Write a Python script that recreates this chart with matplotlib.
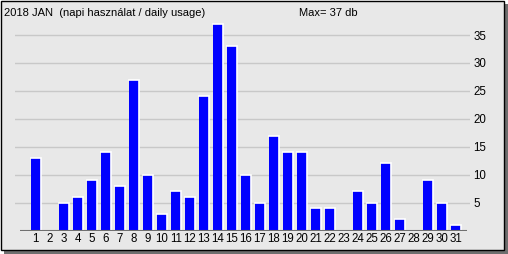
import matplotlib
matplotlib.use("Agg")
import matplotlib.pyplot as plt
from matplotlib.patches import Rectangle

days = list(range(1, 32))
values = [13, 0, 5, 6, 9, 14, 8, 27, 10, 3, 7, 6, 24, 37, 33, 10,
          5, 17, 14, 14, 4, 4, 0, 7, 5, 12, 2, 0, 9, 5, 1]
ytick_vals = [5, 10, 15, 20, 25, 30, 35]
title_text = "2018 JAN  (napi használat / daily usage)"
max_text = "Max= 37 db"

W, H = 508, 254
plt.rcParams['font.family'] = ['Liberation Sans', 'DejaVu Sans']
FS = 8.0
fig = plt.figure(figsize=(W / 100, H / 100), dpi=100, facecolor="white")

def px(x, y, w, h):
    return (x / W, 1 - (y + h) / H, w / W, h / H)

# shadow and panel
sx, sy, sw, sh = px(4, 4, 504, 250)
fig.patches.append(Rectangle((sx, sy), sw, sh, transform=fig.transFigure,
                             facecolor="#6e6e6e", edgecolor="none", zorder=0))
bx, by, bw, bh = px(0.5, 0.5, 503, 249)
fig.patches.append(Rectangle((bx, by), bw, bh, transform=fig.transFigure,
                             facecolor="#e8e8e8", edgecolor="black", linewidth=1, zorder=1))

ax = fig.add_axes(px(15, 20, 455, 210.5))
ax.set_facecolor("none")
ax.set_zorder(2)
for s in ax.spines.values():
    s.set_visible(False)
ax.set_xlim(-0.479, 32.02)
ax.set_ylim(0, 37.7)

for v in ytick_vals:
    ax.axhline(v, color="#c8c8c8", linewidth=1, zorder=1)

bars = ax.bar(days, values, width=0.72, color="#0000ff", edgecolor="none", zorder=2)
for b in bars:
    if b.get_height() <= 0:
        continue
    x0 = b.get_x()
    x1 = x0 + b.get_width()
    h = b.get_height()
    ax.plot([x0, x1, x1], [h, h, 0], color="white", linewidth=1.2,
            solid_joinstyle="miter", zorder=3)

ax.hlines(0, -0.12, 31.8, color="#707070", linewidth=1.5, zorder=4)

ax.set_xticks(days)
ax.set_xticklabels([str(d) for d in days], fontsize=FS + 0.3)
ax.tick_params(axis="x", length=0, pad=2)
ax.yaxis.tick_right()
ax.set_yticks(ytick_vals)
ax.set_yticklabels([str(v) for v in ytick_vals], fontsize=FS + 0.3)
ax.tick_params(axis="y", length=0, pad=2.5)

fig.text(4 / W, 1 - 13 / H, title_text, fontsize=FS, va="center", ha="left")
fig.text(299 / W, 1 - 13 / H, max_text, fontsize=FS, va="center", ha="left")

fig.savefig("out.png", dpi=100, facecolor="white")
